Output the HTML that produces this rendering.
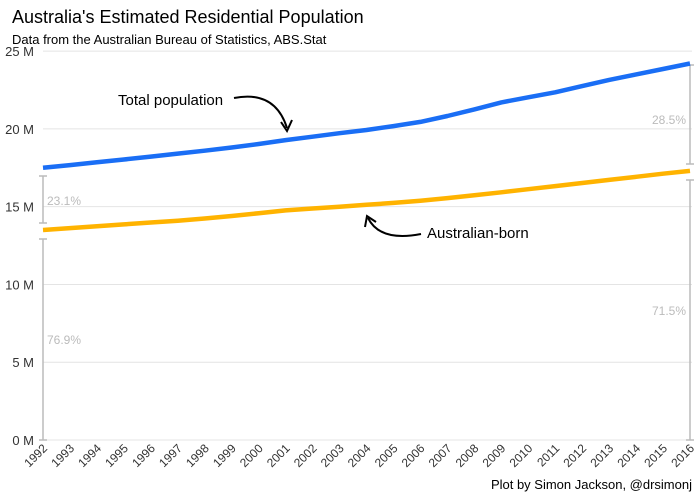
<!DOCTYPE html>
<html><head><meta charset="utf-8"><style>
body{margin:0;background:#fff}
svg{font-family:"Liberation Sans",sans-serif;display:block}
</style></head><body>
<svg id="s" width="700" height="500" xmlns="http://www.w3.org/2000/svg">
<text x="12" y="23" font-size="18" fill="#000">Australia's Estimated Residential Population</text>
<text x="12" y="44" font-size="13" fill="#000">Data from the Australian Bureau of Statistics, ABS.Stat</text>
<g id="grid"></g>
<g stroke="#bbb" stroke-width="1.5" fill="none">
<path d="M43 176V223M39 176H47M39 223H47"/>
<path d="M43 239V440M39 239H47M39 440H47"/>
<path d="M690 65V164M686 65H694M686 164H694"/>
<path d="M690 180V440M686 180H694M686 440H694"/>
</g>
<g font-size="12" fill="#bbb">
<text x="47" y="205">23.1%</text>
<text x="47" y="344">76.9%</text>
<text x="686" y="124" text-anchor="end">28.5%</text>
<text x="686" y="315" text-anchor="end">71.5%</text>
</g>
<polyline id="b" fill="none" stroke="#1a6ef5" stroke-width="4.5" stroke-linejoin="round"/>
<polyline id="o" fill="none" stroke="#ffb300" stroke-width="4.5" stroke-linejoin="round"/>
<text x="118" y="105" font-size="15">Total population</text>
<path d="M234 98 Q275 90 287 128" fill="none" stroke="#000" stroke-width="2"/>
<path d="M281 122 L287 131 L292 120" fill="none" stroke="#000" stroke-width="2"/>
<text x="427" y="238" font-size="15">Australian-born</text>
<path d="M421 234 Q380 242 368 218" fill="none" stroke="#000" stroke-width="2"/>
<path d="M365 227 L367 216 L376 222" fill="none" stroke="#000" stroke-width="2"/>
<text x="692" y="489" font-size="13" text-anchor="end">Plot by Simon Jackson, @drsimonj</text>
<g id="yl" font-size="13" fill="#333"></g>
<g id="xl" font-size="12" fill="#333"></g>
</svg>
<script>
var ns="http://www.w3.org/2000/svg";
function Y(v){return 440-v*15.556}
function X(i){return 43+i*26.958}
var g=document.getElementById('grid'),yl=document.getElementById('yl'),xl=document.getElementById('xl');
for(var v=0;v<=25;v+=5){
 var l=document.createElementNS(ns,'line');l.setAttribute('x1',43);l.setAttribute('x2',692);l.setAttribute('y1',Y(v));l.setAttribute('y2',Y(v));l.setAttribute('stroke','#e4e4e4');g.appendChild(l);
 var t=document.createElementNS(ns,'text');t.setAttribute('x',34);t.setAttribute('y',Y(v)+5);t.setAttribute('text-anchor','end');t.textContent=v+' M';yl.appendChild(t);
}
var b=[17.5,17.67,17.85,18.03,18.22,18.41,18.6,18.8,19.03,19.28,19.5,19.72,19.93,20.18,20.45,20.83,21.25,21.7,22.03,22.35,22.75,23.15,23.5,23.85,24.2];
var o=[13.5,13.62,13.74,13.86,13.98,14.1,14.24,14.4,14.58,14.76,14.88,15.0,15.12,15.24,15.38,15.55,15.73,15.92,16.12,16.32,16.52,16.72,16.92,17.12,17.3];
function pts(a){return a.map(function(v,i){return X(i).toFixed(1)+','+Y(v).toFixed(1)}).join(' ')}
document.getElementById('b').setAttribute('points',pts(b));
document.getElementById('o').setAttribute('points',pts(o));
for(var i=0;i<25;i++){
 var x=X(i);
 var t=document.createElementNS(ns,'text');t.setAttribute('transform','translate('+(x+5)+',449) rotate(-45)');t.setAttribute('text-anchor','end');t.textContent=1992+i;xl.appendChild(t);
}
</script>
</body></html>
